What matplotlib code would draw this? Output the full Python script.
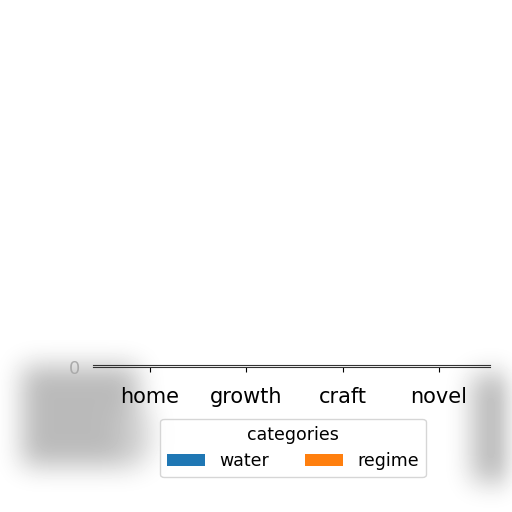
import matplotlib
matplotlib.use("Agg")
import matplotlib.pyplot as plt
import numpy as np

# Chart values (the axes is collapsed to a sliver,
# so the bars show no visible height).
categories = ["home", "growth", "craft", "novel"]
water = [0, 0, 0, 0]
regime = [0, 0, 0, 0]
series_names = ["water", "regime"]
legend_title = "categories"

W = H = 512


def box_blur(img, r):
    # Simple separable box blur, applied a few times for a soft shadow.
    k = np.ones(2 * r + 1) / (2 * r + 1)
    out = img
    for _ in range(3):
        out = np.apply_along_axis(lambda m: np.convolve(m, k, mode="same"), 0, out)
        out = np.apply_along_axis(lambda m: np.convolve(m, k, mode="same"), 1, out)
    return out


def shadow_layer():
    # Grey smudges behind the lower left and lower right of the figure.
    mask = np.zeros((H, W))
    mask[366:466, 22:138] = 1.0
    mask[410:460, 120:150] = 0.7
    mask[374:482, 472:520 - 8] = 1.0
    dark = np.clip(box_blur(mask, 12), 0, 1)
    return 1.0 - 0.27 * dark


fig = plt.figure(figsize=(5.12, 5.12), dpi=100)

bg = fig.add_axes([0, 0, 1, 1])
bg.imshow(shadow_layer(), cmap="gray", vmin=0, vmax=1, aspect="auto",
          interpolation="bilinear")
bg.set_axis_off()

ax = fig.add_axes([93 / W, (H - 367) / H, (490 - 93) / W, 2 / H])
x = np.arange(len(categories))
width = 0.4
h1 = ax.bar(x - width / 2, water, width, color="#1f77b4", label=series_names[0])
h2 = ax.bar(x + width / 2, regime, width, color="#ff7f0e", label=series_names[1])
ax.set_xticks(x)
ax.set_xticklabels(categories, fontsize=15)
ax.set_xlim(-0.59, 3.53)
ax.set_ylim(0, 1)
ax.set_yticks([0])
ax.set_yticklabels(["0"], fontsize=13, color="#aaaaaa")
ax.tick_params(axis="y", length=0, pad=9)
ax.tick_params(axis="x", pad=11)
ax.patch.set_alpha(0)
for side in ("left", "right"):
    ax.spines[side].set_visible(False)
ax.spines["top"].set_color("#333333")
ax.spines["bottom"].set_color("#333333")

fig.legend(
    handles=[h1, h2],
    title=legend_title,
    loc="center",
    bbox_to_anchor=(293 / W, (H - 448) / H),
    ncol=2,
    fontsize=12.5,
    title_fontsize=12.5,
    frameon=True,
    columnspacing=2.1,
    handlelength=2.2,
    borderaxespad=0,
)

fig.savefig("out.png", dpi=100)
